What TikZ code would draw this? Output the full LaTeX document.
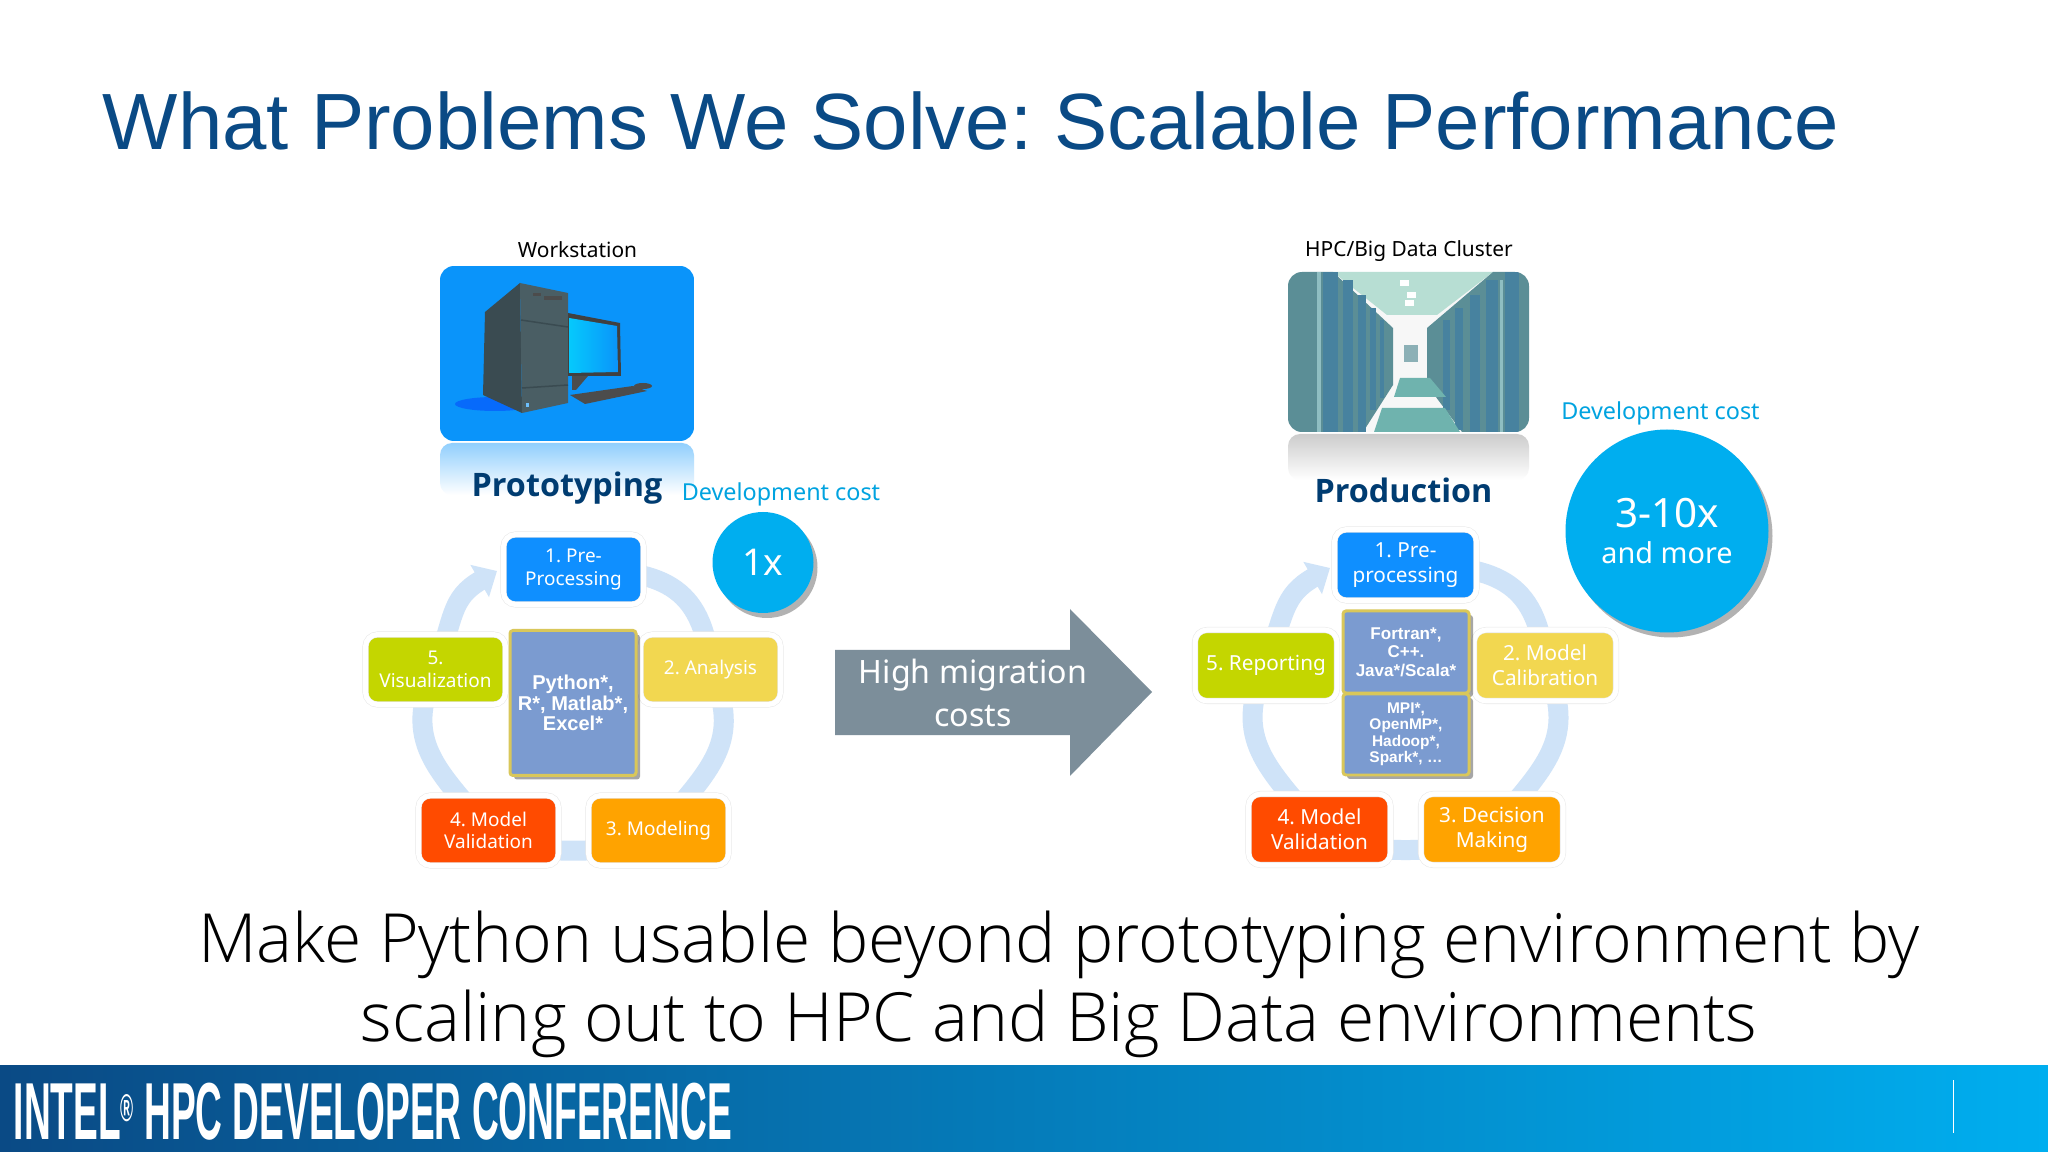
\documentclass[tikz,border=0pt]{standalone}
\usepackage{fontspec}
\usepackage{tikz}
\usetikzlibrary{arrows.meta,backgrounds,shadows}
\setmainfont{Noto Sans}
\newfontfamily\arialfont{Liberation Sans}
\newfontfamily\stagefont{Open Sans}
\newfontfamily\claimfont{Open Sans Light}
\frenchspacing
\definecolor{titleblue}{HTML}{0A4A85}
\definecolor{labelnavy}{HTML}{003C71}
\definecolor{costblue}{HTML}{00A3E0}
\definecolor{circleblue}{HTML}{00AEEF}
\definecolor{ringblue}{HTML}{CFE3F8}
\definecolor{prebox}{HTML}{0F8FFF}
\definecolor{yellowbox}{HTML}{F2D750}
\definecolor{orangebox}{HTML}{FFA300}
\definecolor{redbox}{HTML}{FF4B00}
\definecolor{greenbox}{HTML}{C4D600}
\definecolor{langbox}{HTML}{7B9BD0}
\definecolor{goldline}{HTML}{D9C75A}
\definecolor{migrate}{HTML}{7C8E9A}
\definecolor{towerfront}{HTML}{4A5E64}
\definecolor{towerside}{HTML}{3A4B51}
\definecolor{screenblue}{HTML}{0A94FA}
\definecolor{rackblue}{HTML}{47829F}
\definecolor{rackteal}{HTML}{5B8E96}
\definecolor{racklight}{HTML}{8FBEC2}
\definecolor{floorteal}{HTML}{6FB3AE}
\definecolor{ceilteal}{HTML}{B7DED3}
\tikzset{
    stepbox/.style={draw=black!9,double=white,double distance=0.05cm,line width=0.15pt,rounded corners=0.12cm,
        minimum width=1.4cm,minimum height=0.7cm,inner sep=0pt,align=center,text=white,
        font=\fontsize{5.4}{6.4}\selectfont},
    bigstep/.style={stepbox,minimum width=1.42cm,minimum height=0.71cm,font=\fontsize{5.9}{7.1}\selectfont},
    langnode/.style={fill=langbox,draw=goldline,line width=0.03cm,rounded corners=0.03cm,inner sep=0pt,
        align=center,text=white,drop shadow={shadow xshift=0.04cm,shadow yshift=-0.04cm,opacity=0.35,fill=black}},
    costcircle/.style={circle,fill=circleblue,inner sep=0pt,align=center,text=white,
        drop shadow={shadow xshift=0.04cm,shadow yshift=-0.05cm,opacity=0.3,fill=black}},
    ringline/.style={draw=ringblue,line width=0.2cm},
    ringhead/.style={ringline,-{Triangle[length=0.2cm,width=0.36cm]}},
    costlabel/.style={text=costblue,inner sep=0pt,font=\fontsize{6.65}{8}\selectfont},
    toplabel/.style={text=black,inner sep=0pt,font=\fontsize{5.95}{7}\selectfont},
    stagelabel/.style={text=labelnavy,inner sep=0pt,font=\stagefont\fontsize{9.2}{11}\bfseries\selectfont}
}
\begin{document}
\begin{tikzpicture}
    \useasboundingbox (0,-11.52) rectangle (20.48,0);

    \node[anchor=base west,inner sep=0pt,text=titleblue,font=\arialfont\fontsize{22.7}{28}\selectfont] at (1.02,-1.5) (heading) {What Problems We Solve: Scalable Performance};

    \node[toplabel] at (5.775,-2.5) (wslabel) {Workstation};
    \node[toplabel] at (14.09,-2.51) (hpclabel) {HPC/Big Data Cluster};

    \shade[top color=screenblue!45,bottom color=white,rounded corners=0.12cm] (4.4,-4.43) rectangle (6.94,-4.95);
    \shade[top color=black!20,bottom color=white,rounded corners=0.12cm] (12.88,-4.34) rectangle (15.29,-4.8);

    \begin{scope}
        \clip[rounded corners=0.14cm] (4.4,-2.66) rectangle (6.94,-4.41);
        \fill[screenblue] (4.4,-2.66) rectangle (6.94,-4.41);
        \fill[blue!70!screenblue,opacity=0.4] (4.95,-4.04) ellipse (0.4 and 0.07);
        \fill[towerside] (5.2,-2.83) -- (4.85,-3.12) -- (4.83,-3.95) -- (5.22,-4.13) -- cycle;
        \fill[towerfront] (5.2,-2.83) -- (5.68,-2.93) -- (5.68,-4.03) -- (5.22,-4.13) -- cycle;
        \draw[towerside,line width=0.015cm] (5.21,-3.2) -- (5.68,-3.27);
        \draw[towerside,line width=0.015cm] (5.22,-3.88) -- (5.68,-3.85);
        \fill[black!70] (5.33,-2.93) rectangle (5.41,-2.96);
        \fill[black!70] (5.44,-2.96) rectangle (5.62,-3);
        \fill[screenblue!60!white] (5.26,-4.03) rectangle (5.29,-4.07);
        \fill[black!75] (5.68,-3.13) -- (6.2,-3.23) -- (6.21,-3.76) -- (5.68,-3.76) -- cycle;
        \shade[left color=cyan!50!screenblue,right color=screenblue] (5.69,-3.18) -- (6.17,-3.26) -- (6.18,-3.72) -- (5.69,-3.73) -- cycle;
        \fill[black!70] (5.72,-3.76) -- (5.88,-3.76) -- (5.76,-3.9) -- (5.72,-3.9) -- cycle;
        \fill[black!70] (5.7,-3.95) -- (6.33,-3.86) -- (6.47,-3.91) -- (5.85,-4.04) -- cycle;
        \fill[black!70] (6.43,-3.86) ellipse (0.09 and 0.03);
    \end{scope}
    \begin{scope}
        \clip[rounded corners=0.14cm] (12.88,-2.72) rectangle (15.29,-4.32);
        \fill[black!3] (12.88,-2.72) rectangle (15.29,-4.32);
        \fill[ceilteal] (13.33,-2.72) -- (14.93,-2.72) -- (14.37,-3.15) -- (13.87,-3.15) -- cycle;
        \fill[rackteal] (12.88,-2.72) -- (13.33,-2.72) -- (13.93,-3.28) -- (13.93,-3.85) -- (13.63,-4.32) -- (12.88,-4.32) -- cycle;
        \fill[rackteal] (15.29,-2.72) -- (14.93,-2.72) -- (14.27,-3.28) -- (14.27,-3.85) -- (14.62,-4.32) -- (15.29,-4.32) -- cycle;
        \foreach \xa/\xb/\ya/\yb in {13.23/13.38/2.72/4.32,13.43/13.53/2.8/4.32,13.58/13.66/2.95/4.32,13.7/13.76/3.08/4.1,13.8/13.84/3.2/3.98} {
            \fill[rackblue] (\xa,-\ya) rectangle (\xb,-\yb);
        }
        \foreach \xa/\xb/\ya/\yb in {15.05/15.19/2.72/4.32,14.86/14.98/2.8/4.32,14.7/14.8/2.95/4.32,14.55/14.63/3.08/4.3,14.43/14.5/3.2/4.1} {
            \fill[rackblue] (\xa,-\ya) rectangle (\xb,-\yb);
        }
        \fill[racklight] (13.17,-2.72) rectangle (13.21,-4.32);
        \fill[racklight] (15.0,-2.8) rectangle (15.03,-4.32);
        \fill[floorteal] (14.0,-3.78) -- (14.3,-3.78) -- (14.46,-3.97) -- (13.94,-3.97) -- cycle;
        \fill[floorteal] (13.82,-4.08) -- (14.45,-4.08) -- (14.6,-4.32) -- (13.74,-4.32) -- cycle;
        \fill[rackteal!70] (14.04,-3.45) rectangle (14.18,-3.62);
        \foreach \xa/\ya in {14.0/2.8,14.07/2.92,14.05/3.0} {
            \fill[white] (\xa,-\ya) rectangle ++(0.09,-0.06);
        }
    \end{scope}

    \node[stagelabel] at (5.67,-4.88) (lstage) {Prototyping};
    \node[stagelabel] at (14.035,-4.9) (rstage) {Production};
    \node[costlabel] at (7.81,-4.945) (lcost) {Development cost};
    \node[costlabel] at (16.605,-4.135) (rcost) {Development cost};
    \node[costcircle,minimum size=1.01cm,font=\fontsize{10.5}{12}\selectfont] at (7.63,-5.625) (lone) {1x};
    \node[costcircle,minimum size=2.03cm,font=\fontsize{8.2}{10}\selectfont] at (16.67,-5.31) (rten) {{\fontsize{11.5}{15}\selectfont 3-10x}\\and more};

    \node[stepbox,fill=prebox] at (5.735,-5.695) (lpre) {1. Pre-\\Processing};
    \node[stepbox,fill=yellowbox] at (7.105,-6.695) (lana) {2. Analysis};
    \node[stepbox,fill=orangebox] at (6.585,-8.305) (lmod) {3. Modeling};
    \node[stepbox,fill=redbox] at (4.885,-8.305) (lval) {4. Model\\Validation};
    \node[stepbox,fill=greenbox] at (4.355,-6.695) (lvis) {5.\\Visualization};
    \node[langnode,minimum width=1.26cm,minimum height=1.45cm,font=\arialfont\fontsize{5.7}{5.9}\bfseries\selectfont] at (5.73,-7.03) (llang) {Python*,\\R*, Matlab*,\\Excel*};

    \node[bigstep,fill=prebox] at (14.055,-5.65) (rpre) {1. Pre-\\processing};
    \node[bigstep,fill=yellowbox] at (15.45,-6.655) (rcal) {2. Model\\Calibration};
    \node[bigstep,fill=orangebox] at (14.92,-8.295) (rdec) {3. Decision\\Making};
    \node[bigstep,fill=redbox] at (13.195,-8.295) (rval) {4. Model\\Validation};
    \node[bigstep,fill=greenbox] at (12.66,-6.655) (rrep) {5. Reporting};
    \node[langnode,minimum width=1.26cm,minimum height=0.82cm,font=\arialfont\fontsize{4.85}{5.3}\bfseries\selectfont] at (14.06,-6.52) (rcode) {Fortran*,\\C++.\\Java*/Scala*};
    \node[langnode,minimum width=1.26cm,minimum height=0.81cm,font=\arialfont\fontsize{4.4}{4.7}\bfseries\selectfont] at (14.06,-7.345) (rlib) {MPI*,\\OpenMP*,\\Hadoop*,\\Spark*, \dots};

    \coordinate (ltip) at (4.97,-5.71);
    \coordinate (rtip) at (13.3,-5.68);
    \begin{pgfonlayer}{background}
        \fill[white] (0,-11.52) rectangle (20.48,0);
        \draw[ringline] (lpre.center) to [out=0,in=95,looseness=1.3] (lana.center);
        \draw[ringline] (lana.center) to [out=-65,in=50,looseness=1.2] (lmod.center);
        \draw[ringline] (lmod.center) to [out=-120,in=-60,looseness=0.47] (lval.center);
        \draw[ringline] (lval.center) to [out=130,in=-115,looseness=1.2] (lvis.center);
        \draw[ringhead] (lvis.center) to [out=70,in=210,looseness=1.2] (ltip);
        \draw[ringline] (rpre.center) to [out=0,in=95,looseness=1.3] (rcal.center);
        \draw[ringline] (rcal.center) to [out=-65,in=50,looseness=1.2] (rdec.center);
        \draw[ringline] (rdec.center) to [out=-120,in=-60,looseness=0.47] (rval.center);
        \draw[ringline] (rval.center) to [out=130,in=-115,looseness=1.2] (rrep.center);
        \draw[ringhead] (rrep.center) to [out=70,in=210,looseness=1.2] (rtip);
    \end{pgfonlayer}

    \fill[migrate] (8.35,-6.5) -- (10.7,-6.5) -- (10.7,-6.09) -- (11.52,-6.92) -- (10.7,-7.76) -- (10.7,-7.35) -- (8.35,-7.35) -- cycle;
    \node[text=white,inner sep=0pt,align=center,font=\fontsize{9.15}{12}\selectfont] at (9.73,-6.93) (migtext) {High migration\\costs};

    \node[inner sep=0pt,align=center,text=black,font=\claimfont\fontsize{19.3}{22.5}\selectfont] at (10.59,-9.84) (claim) {Make Python usable beyond prototyping environment by\\scaling out to HPC and Big Data environments};

    \shade[left color=titleblue,middle color=titleblue!50!prebox,right color=circleblue] (0,-11.52) rectangle (20.48,-10.65);
    \draw[white,line width=0.01cm] (19.53,-10.8) -- (19.53,-11.33);
    \node[anchor=base west,inner sep=0pt,text=white] at (0.13,-11.39) (footer) {\scalebox{0.459}[1]{\arialfont\fontsize{23}{23}\bfseries\selectfont INTEL\raisebox{5pt}{\fontsize{11}{11}\selectfont ®}\ HPC DEVELOPER CONFERENCE}};
\end{tikzpicture}
\end{document}
